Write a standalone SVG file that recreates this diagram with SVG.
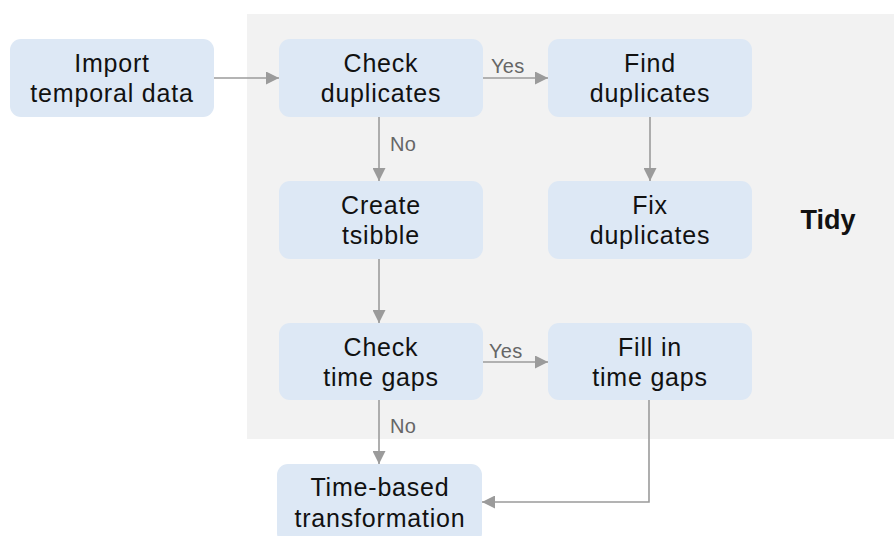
<svg xmlns="http://www.w3.org/2000/svg" width="894" height="536" viewBox="0 0 894 536">
<defs>
<style>
.node rect{fill:#dde8f5;}
.node text{font-family:"Liberation Sans",Arial,sans-serif;font-size:25px;letter-spacing:0.8px;fill:#111;text-anchor:middle;}
.edge{stroke:#9b9b9b;stroke-width:1.6;fill:none;marker-end:url(#ah);}
.lbl{font-family:"Liberation Sans",Arial,sans-serif;font-size:20px;letter-spacing:0.3px;fill:#666;}
</style>
<marker id="ah" markerUnits="userSpaceOnUse" markerWidth="13" markerHeight="13" refX="13" refY="6.5" orient="auto">
<path d="M0,0 L13,6.5 L0,13 z" fill="#9b9b9b"/>
</marker>
</defs>
<rect width="894" height="536" fill="#fff"/>
<rect x="247" y="14" width="647" height="425" fill="#f2f2f2"/>
<text x="828" y="229" font-family="Liberation Sans,Arial,sans-serif" font-size="27" font-weight="bold" fill="#111" text-anchor="middle">Tidy</text>
<g id="connectors">
<path class="edge" d="M214,78 L279,78"/>
<path class="edge" d="M483,78 L548,78"/>
<path class="edge" d="M379,117 L379,181"/>
<path class="edge" d="M650,117 L650,181"/>
<path class="edge" d="M379,259 L379,323"/>
<path class="edge" d="M483,362 L548,362"/>
<path class="edge" d="M379,400 L379,464"/>
<path class="edge" d="M649,400 L649,502 L482,502"/>
<text class="lbl" x="491" y="73">Yes</text>
<text class="lbl" x="390" y="151">No</text>
<text class="lbl" x="489" y="358">Yes</text>
<text class="lbl" x="390" y="433">No</text>
</g>
<g id="import" class="node"><rect x="10" y="39" width="204" height="78" rx="11"/><text x="112" y="72">Import</text><text x="112" y="102">temporal data</text></g>
<g id="check-dup" class="node"><rect x="279" y="39" width="204" height="78" rx="11"/><text x="381" y="72">Check</text><text x="381" y="102">duplicates</text></g>
<g id="find-dup" class="node"><rect x="548" y="39" width="204" height="78" rx="11"/><text x="650" y="72">Find</text><text x="650" y="102">duplicates</text></g>
<g id="create" class="node"><rect x="279" y="181" width="204" height="78" rx="11"/><text x="381" y="214">Create</text><text x="381" y="244">tsibble</text></g>
<g id="fix-dup" class="node"><rect x="548" y="181" width="204" height="78" rx="11"/><text x="650" y="214">Fix</text><text x="650" y="244">duplicates</text></g>
<g id="check-gaps" class="node"><rect x="279" y="323" width="204" height="77" rx="11"/><text x="381" y="356">Check</text><text x="381" y="386">time gaps</text></g>
<g id="fill-gaps" class="node"><rect x="548" y="323" width="204" height="77" rx="11"/><text x="650" y="356">Fill in</text><text x="650" y="386">time gaps</text></g>
<g id="time-based" class="node"><rect x="277" y="464" width="205" height="80" rx="11"/><text x="380" y="496">Time-based</text><text x="380" y="527">transformation</text></g>
</svg>
